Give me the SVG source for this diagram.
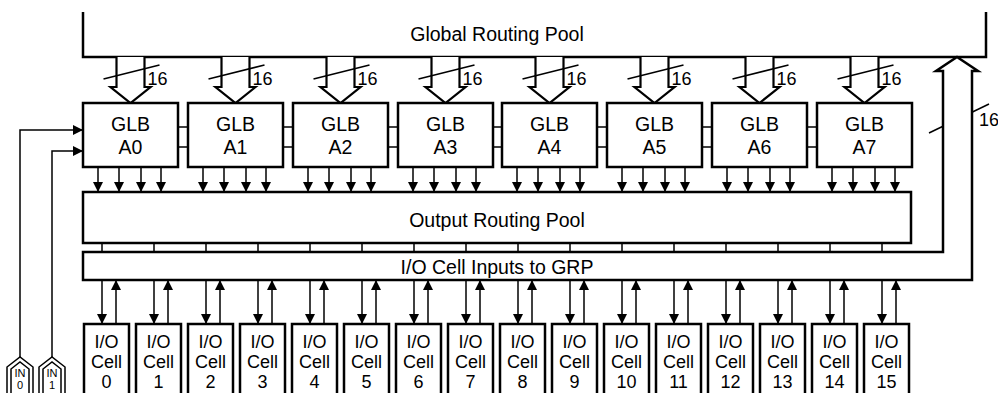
<svg xmlns="http://www.w3.org/2000/svg" width="998" height="393" viewBox="0 0 998 393">
<defs>
<style>
.box{fill:#fff;stroke:#000;stroke-width:2.5}
.open{fill:none;stroke:#000;stroke-width:2.5}
.thin{fill:none;stroke:#000;stroke-width:1.5}
.ar{fill:none;stroke:#000;stroke-width:1.5;marker-end:url(#ah)}
.bus{fill:#fff;stroke:#000;stroke-width:2.2}
.t{font-family:"Liberation Sans",Arial,Helvetica,sans-serif;font-size:19.5px;text-anchor:middle;fill:#000}
.c{font-family:"Liberation Sans",Arial,Helvetica,sans-serif;font-size:18px;text-anchor:middle;fill:#000}
.n{font-family:"Liberation Sans",Arial,Helvetica,sans-serif;font-size:18px;fill:#000}
.p{font-family:"Liberation Sans",Arial,Helvetica,sans-serif;font-size:11px;text-anchor:middle;fill:#000}
</style>
<marker id="ah" markerUnits="userSpaceOnUse" markerWidth="10" markerHeight="10" refX="10" refY="5" orient="auto">
<path d="M0,0 L10,5 L0,10 Z" fill="#000"/>
</marker>
</defs>
<rect width="998" height="393" fill="#fff"/>

<g id="GRP">
<path class="open" d="M83,12 V57 H986 V12"/>
<text class="t" x="497" y="41">Global Routing Pool</text>
</g>

<g id="connectors">
<!-- GRP to GLB buses -->
<path class="bus" d="M116.5,57 V87 H110.5 L130.5,103 L150.5,87 H144.5 V57"/>
<path class="bus" d="M221.5,57 V87 H215.5 L235.5,103 L255.5,87 H249.5 V57"/>
<path class="bus" d="M326.5,57 V87 H320.5 L340.5,103 L360.5,87 H354.5 V57"/>
<path class="bus" d="M431.5,57 V87 H425.5 L445.5,103 L465.5,87 H459.5 V57"/>
<path class="bus" d="M535.5,57 V87 H529.5 L549.5,103 L569.5,87 H563.5 V57"/>
<path class="bus" d="M640.5,57 V87 H634.5 L654.5,103 L674.5,87 H668.5 V57"/>
<path class="bus" d="M745.5,57 V87 H739.5 L759.5,103 L779.5,87 H773.5 V57"/>
<path class="bus" d="M850.5,57 V87 H844.5 L864.5,103 L884.5,87 H878.5 V57"/>
<g class="thin">
<line x1="103.5" y1="79" x2="159.5" y2="65"/>
<line x1="208.5" y1="79" x2="264.5" y2="65"/>
<line x1="313.5" y1="79" x2="369.5" y2="65"/>
<line x1="418.5" y1="79" x2="474.5" y2="65"/>
<line x1="522.5" y1="79" x2="578.5" y2="65"/>
<line x1="627.5" y1="79" x2="683.5" y2="65"/>
<line x1="732.5" y1="79" x2="788.5" y2="65"/>
<line x1="837.5" y1="79" x2="893.5" y2="65"/>
</g>
<text class="n" x="147.5" y="85">16</text>
<text class="n" x="252.5" y="85">16</text>
<text class="n" x="357.5" y="85">16</text>
<text class="n" x="462.5" y="85">16</text>
<text class="n" x="566.5" y="85">16</text>
<text class="n" x="671.5" y="85">16</text>
<text class="n" x="776.5" y="85">16</text>
<text class="n" x="881.5" y="85">16</text>

<!-- GLB interconnects -->
<g class="thin">
<path d="M178,127 H188 M178,147 H188"/>
<path d="M283,127 H293 M283,147 H293"/>
<path d="M388,127 H398 M388,147 H398"/>
<path d="M493,127 H502 M493,147 H502"/>
<path d="M597,127 H607 M597,147 H607"/>
<path d="M702,127 H712 M702,147 H712"/>
<path d="M807,127 H817 M807,147 H817"/>
</g>

<!-- GLB outputs to ORP -->
<path class="ar" d="M98,167 V192"/><path class="ar" d="M119,167 V192"/><path class="ar" d="M141,167 V192"/><path class="ar" d="M161,167 V192"/>
<path class="ar" d="M203,167 V192"/><path class="ar" d="M224,167 V192"/><path class="ar" d="M246,167 V192"/><path class="ar" d="M266,167 V192"/>
<path class="ar" d="M308,167 V192"/><path class="ar" d="M329,167 V192"/><path class="ar" d="M351,167 V192"/><path class="ar" d="M371,167 V192"/>
<path class="ar" d="M413,167 V192"/><path class="ar" d="M434,167 V192"/><path class="ar" d="M456,167 V192"/><path class="ar" d="M476,167 V192"/>
<path class="ar" d="M517,167 V192"/><path class="ar" d="M538,167 V192"/><path class="ar" d="M560,167 V192"/><path class="ar" d="M580,167 V192"/>
<path class="ar" d="M622,167 V192"/><path class="ar" d="M643,167 V192"/><path class="ar" d="M665,167 V192"/><path class="ar" d="M685,167 V192"/>
<path class="ar" d="M727,167 V192"/><path class="ar" d="M748,167 V192"/><path class="ar" d="M770,167 V192"/><path class="ar" d="M790,167 V192"/>
<path class="ar" d="M832,167 V192"/><path class="ar" d="M853,167 V192"/><path class="ar" d="M875,167 V192"/><path class="ar" d="M895,167 V192"/>

<!-- ORP to I/O bus ticks -->
<path class="thin" d="M102,243 V252 M154,243 V252 M206,243 V252 M258,243 V252 M310,243 V252 M362,243 V252 M414,243 V252 M466,243 V252 M518,243 V252 M570,243 V252 M622,243 V252 M674,243 V252 M726,243 V252 M778,243 V252 M830,243 V252 M882,243 V252"/>

<!-- I/O cell arrows -->
<path class="ar" d="M102,280 V324"/><path class="ar" d="M116,324 V280"/>
<path class="ar" d="M154,280 V324"/><path class="ar" d="M168,324 V280"/>
<path class="ar" d="M206,280 V324"/><path class="ar" d="M220,324 V280"/>
<path class="ar" d="M258,280 V324"/><path class="ar" d="M272,324 V280"/>
<path class="ar" d="M310,280 V324"/><path class="ar" d="M324,324 V280"/>
<path class="ar" d="M362,280 V324"/><path class="ar" d="M376,324 V280"/>
<path class="ar" d="M414,280 V324"/><path class="ar" d="M428,324 V280"/>
<path class="ar" d="M466,280 V324"/><path class="ar" d="M480,324 V280"/>
<path class="ar" d="M518,280 V324"/><path class="ar" d="M532,324 V280"/>
<path class="ar" d="M570,280 V324"/><path class="ar" d="M584,324 V280"/>
<path class="ar" d="M622,280 V324"/><path class="ar" d="M636,324 V280"/>
<path class="ar" d="M674,280 V324"/><path class="ar" d="M688,324 V280"/>
<path class="ar" d="M726,280 V324"/><path class="ar" d="M740,324 V280"/>
<path class="ar" d="M778,280 V324"/><path class="ar" d="M792,324 V280"/>
<path class="ar" d="M830,280 V324"/><path class="ar" d="M844,324 V280"/>
<path class="ar" d="M882,280 V324"/><path class="ar" d="M896,324 V280"/>

<!-- dedicated inputs -->
<path class="ar" d="M20,357 V130 H83"/>
<path class="ar" d="M52,357 V151 H83"/>

<!-- feedback bus slash -->
<line class="thin" x1="929" y1="133" x2="989" y2="104"/>
<text class="n" x="979" y="126">16</text>
</g>

<g id="GLB_A0"><rect class="box" x="83" y="103" width="95" height="64"/><text class="t" x="130.5" y="131">GLB</text><text class="t" x="130.5" y="154">A0</text></g>
<g id="GLB_A1"><rect class="box" x="188" y="103" width="95" height="64"/><text class="t" x="235.5" y="131">GLB</text><text class="t" x="235.5" y="154">A1</text></g>
<g id="GLB_A2"><rect class="box" x="293" y="103" width="95" height="64"/><text class="t" x="340.5" y="131">GLB</text><text class="t" x="340.5" y="154">A2</text></g>
<g id="GLB_A3"><rect class="box" x="398" y="103" width="95" height="64"/><text class="t" x="445.5" y="131">GLB</text><text class="t" x="445.5" y="154">A3</text></g>
<g id="GLB_A4"><rect class="box" x="502" y="103" width="95" height="64"/><text class="t" x="549.5" y="131">GLB</text><text class="t" x="549.5" y="154">A4</text></g>
<g id="GLB_A5"><rect class="box" x="607" y="103" width="95" height="64"/><text class="t" x="654.5" y="131">GLB</text><text class="t" x="654.5" y="154">A5</text></g>
<g id="GLB_A6"><rect class="box" x="712" y="103" width="95" height="64"/><text class="t" x="759.5" y="131">GLB</text><text class="t" x="759.5" y="154">A6</text></g>
<g id="GLB_A7"><rect class="box" x="817" y="103" width="95" height="64"/><text class="t" x="864.5" y="131">GLB</text><text class="t" x="864.5" y="154">A7</text></g>

<g id="ORP">
<rect class="box" x="83" y="192" width="828" height="51"/>
<text class="t" x="497" y="227">Output Routing Pool</text>
</g>

<g id="IO_inputs_to_GRP">
<path class="box" d="M83,252 H943 V71 H936 L957,57 L978,71 H972 V280 H83 Z"/>
<text class="t" x="497" y="274">I/O Cell Inputs to GRP</text>
</g>

<g id="IO0"><rect class="box" x="84" y="324" width="45" height="80"/><text class="c" x="106.5" y="348">I/O</text><text class="c" x="106.5" y="368">Cell</text><text class="c" x="106.5" y="388">0</text></g>
<g id="IO1"><rect class="box" x="136" y="324" width="45" height="80"/><text class="c" x="158.5" y="348">I/O</text><text class="c" x="158.5" y="368">Cell</text><text class="c" x="158.5" y="388">1</text></g>
<g id="IO2"><rect class="box" x="188" y="324" width="45" height="80"/><text class="c" x="210.5" y="348">I/O</text><text class="c" x="210.5" y="368">Cell</text><text class="c" x="210.5" y="388">2</text></g>
<g id="IO3"><rect class="box" x="240" y="324" width="45" height="80"/><text class="c" x="262.5" y="348">I/O</text><text class="c" x="262.5" y="368">Cell</text><text class="c" x="262.5" y="388">3</text></g>
<g id="IO4"><rect class="box" x="292" y="324" width="45" height="80"/><text class="c" x="314.5" y="348">I/O</text><text class="c" x="314.5" y="368">Cell</text><text class="c" x="314.5" y="388">4</text></g>
<g id="IO5"><rect class="box" x="344" y="324" width="45" height="80"/><text class="c" x="366.5" y="348">I/O</text><text class="c" x="366.5" y="368">Cell</text><text class="c" x="366.5" y="388">5</text></g>
<g id="IO6"><rect class="box" x="396" y="324" width="45" height="80"/><text class="c" x="418.5" y="348">I/O</text><text class="c" x="418.5" y="368">Cell</text><text class="c" x="418.5" y="388">6</text></g>
<g id="IO7"><rect class="box" x="448" y="324" width="45" height="80"/><text class="c" x="470.5" y="348">I/O</text><text class="c" x="470.5" y="368">Cell</text><text class="c" x="470.5" y="388">7</text></g>
<g id="IO8"><rect class="box" x="500" y="324" width="45" height="80"/><text class="c" x="522.5" y="348">I/O</text><text class="c" x="522.5" y="368">Cell</text><text class="c" x="522.5" y="388">8</text></g>
<g id="IO9"><rect class="box" x="552" y="324" width="45" height="80"/><text class="c" x="574.5" y="348">I/O</text><text class="c" x="574.5" y="368">Cell</text><text class="c" x="574.5" y="388">9</text></g>
<g id="IO10"><rect class="box" x="604" y="324" width="45" height="80"/><text class="c" x="626.5" y="348">I/O</text><text class="c" x="626.5" y="368">Cell</text><text class="c" x="626.5" y="388">10</text></g>
<g id="IO11"><rect class="box" x="656" y="324" width="45" height="80"/><text class="c" x="678.5" y="348">I/O</text><text class="c" x="678.5" y="368">Cell</text><text class="c" x="678.5" y="388">11</text></g>
<g id="IO12"><rect class="box" x="708" y="324" width="45" height="80"/><text class="c" x="730.5" y="348">I/O</text><text class="c" x="730.5" y="368">Cell</text><text class="c" x="730.5" y="388">12</text></g>
<g id="IO13"><rect class="box" x="760" y="324" width="45" height="80"/><text class="c" x="782.5" y="348">I/O</text><text class="c" x="782.5" y="368">Cell</text><text class="c" x="782.5" y="388">13</text></g>
<g id="IO14"><rect class="box" x="812" y="324" width="45" height="80"/><text class="c" x="834.5" y="348">I/O</text><text class="c" x="834.5" y="368">Cell</text><text class="c" x="834.5" y="388">14</text></g>
<g id="IO15"><rect class="box" x="864" y="324" width="45" height="80"/><text class="c" x="886.5" y="348">I/O</text><text class="c" x="886.5" y="368">Cell</text><text class="c" x="886.5" y="388">15</text></g>

<g id="IN0">
<path class="thin" d="M7,395 V367 L20,357 L33,367 V395"/>
<path class="thin" d="M11,395 V369 L20,362 L29,369 V395"/>
<text class="p" x="20" y="377">IN</text><text class="p" x="20" y="389">0</text>
</g>
<g id="IN1">
<path class="thin" d="M39,395 V367 L52,357 L65,367 V395"/>
<path class="thin" d="M43,395 V369 L52,362 L61,369 V395"/>
<text class="p" x="52" y="377">IN</text><text class="p" x="52" y="389">1</text>
</g>
</svg>
